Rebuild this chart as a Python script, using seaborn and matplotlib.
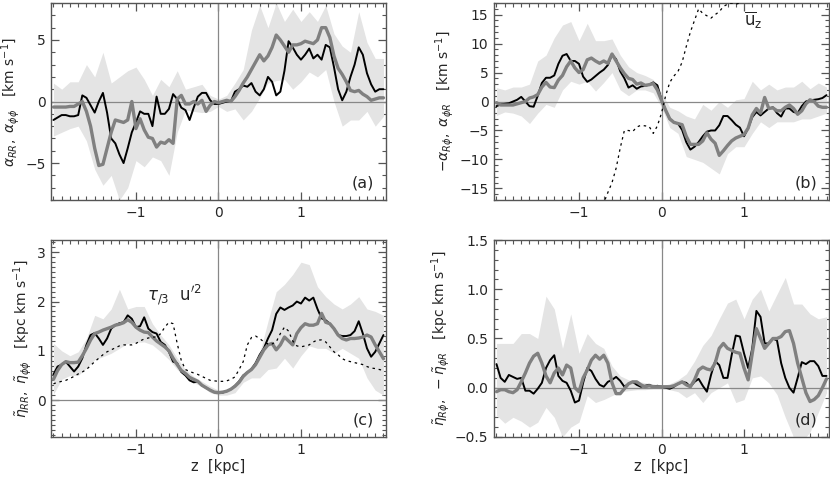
import numpy as np
import pandas as pd
import matplotlib
matplotlib.use("Agg")
import matplotlib.pyplot as plt
from matplotlib.ticker import MultipleLocator, FixedLocator
import seaborn as sns

# profiles are sampled every 0.05 kpc, the shaded bands every 0.1 kpc
z = np.round(np.arange(-2.0, 2.001, 0.05), 2)
z_band = np.round(np.arange(-2.0, 2.001, 0.1), 2)
z_uz = np.round(np.arange(-0.75, 1.101, 0.05), 2)
z_ticks = [-1, 0, 1]

# (a) alpha_RR (black) and alpha_phiphi (gray), km/s
a_black = [-1.5, -1.3, -1.1, -1.1, -1.2, -1.2, -1.1, 0.5, 0.3,
           -0.3, -0.9, 0.0, 0.7, -0.9, -3.0, -3.4, -4.3, -5.0,
           -3.8, -2.5, -1.7, -0.8, -1.0, -1.0, -2.0, 0.4, -1.0,
           -1.0, -0.6, 0.6, 0.2, -0.5, -0.7, -1.5, -0.5, 0.4,
           0.7, 0.7, 0.1, -0.2, -0.2, -0.1, 0.0, 0.0, 0.8,
           1.0, 1.3, 1.2, 1.5, 0.8, 0.5, 1.0, 2.0, 1.6,
           0.5, 0.8, 2.5, 4.9, 4.4, 3.8, 3.4, 3.8, 4.3,
           3.5, 3.8, 3.4, 4.6, 4.4, 2.8, 1.0, 0.1, 0.8,
           2.0, 3.0, 4.4, 3.8, 2.3, 1.4, 0.8, 1.0, 1.0]
a_gray = [-0.45, -0.45, -0.45, -0.45, -0.4, -0.4, -0.2, 0.0, -0.8,
          -2.0, -3.8, -5.2, -5.1, -3.8, -2.5, -1.5, -1.6, -1.7,
          -1.5, 0.0, -2.2, -1.4, -2.3, -2.9, -3.0, -3.7, -3.3,
          -3.4, -3.1, -3.4, 0.2, 0.5, -0.2, -0.2, 0.0, -0.2,
          0.1, -0.8, -0.3, 0.0, -0.1, 0.0, 0.1, 0.0, 0.4,
          0.9, 1.5, 2.0, 2.6, 3.2, 3.8, 3.3, 3.7, 4.4,
          5.4, 5.0, 4.5, 4.0, 4.6, 4.6, 4.7, 4.9, 4.8,
          4.7, 5.0, 6.0, 6.0, 5.2, 3.7, 2.7, 2.2, 1.6,
          0.9, 0.8, 0.9, 0.6, 0.4, 0.1, 0.2, 0.3, 0.3]
a_lo = [-2.8, -2.5, -2.2, -2.0, -3.2, -5.5, -6.8, -6.0, -8.0, -7.0,
        -4.8, -5.3, -4.5, -4.8, -6.0, -2.5, -0.7, -0.8, -0.9, -0.8,
        -0.4, -0.8, -0.6, -1.5, -0.8, 0.3, 1.5, 1.7, 1.8, 1.0,
        1.6, 2.4, 2.0, 2.6, 0.0, -2.0, -1.5, -1.5, -0.8, -2.0, -1.2]
a_up = [1.5, 1.0, 1.6, 1.6, 3.0, 2.0, 4.0, 1.5, 2.0, 2.5,
        2.8, 1.8, 0.5, 1.8, 1.2, 2.5, 1.0, 1.2, 1.4, 0.5,
        0.2, 0.5, 1.5, 2.6, 5.8, 7.8, 6.0, 8.0, 6.5, 7.5,
        6.5, 7.3, 6.5, 7.8, 5.5, 4.5, 4.0, 7.3, 4.8, 3.5, 3.5]

# (b) -alpha_Rphi (black) and alpha_phiR (gray), km/s, plus mean vertical velocity
b_black = [-0.8, -0.5, -0.4, -0.3, 0.0, 0.3, 0.8, 0.0, -0.8,
           -0.9, 1.0, 3.2, 4.1, 4.1, 4.5, 6.5, 7.9, 8.2,
           7.0, 7.0, 6.5, 4.3, 3.4, 3.8, 4.4, 5.0, 5.5,
           6.3, 8.1, 7.3, 5.2, 4.0, 2.4, 2.8, 2.2, 2.6,
           2.7, 2.9, 3.3, 2.8, 0.3, -1.5, -3.0, -3.6, -3.8,
           -4.9, -7.0, -8.3, -7.8, -7.0, -6.0, -5.2, -5.0, -5.0,
           -4.1, -2.5, -2.5, -3.2, -4.0, -4.5, -6.0, -4.6, -2.7,
           -1.8, -2.4, -1.8, -1.2, -1.0, -2.0, -2.6, -1.2, -1.2,
           -1.8, -2.0, -0.8, 0.0, 0.2, 0.3, 0.4, 0.6, 1.1]
b_gray = [-0.2, -0.6, -0.6, -0.6, -0.6, -0.4, -0.2, 0.0, 0.6,
          0.8, 1.2, 2.5, 3.3, 2.5, 2.4, 3.7, 4.5, 6.0,
          7.0, 5.8, 5.0, 5.5, 7.2, 7.5, 7.0, 6.6, 7.0,
          6.6, 8.2, 7.0, 5.8, 4.8, 4.0, 3.8, 3.0, 3.2,
          2.8, 2.9, 3.1, 2.0, 0.2, -1.5, -3.0, -3.6, -3.8,
          -4.0, -6.0, -7.4, -7.4, -7.4, -6.8, -5.4, -6.5, -7.2,
          -9.3, -8.5, -7.6, -6.8, -6.3, -6.0, -5.7, -4.6, -2.3,
          -1.2, -2.0, 0.7, -1.2, -1.1, -1.6, -1.6, -1.0, -0.6,
          -1.2, -2.2, -1.6, -0.4, 0.3, 0.0, -0.8, -1.0, -1.0]
b_lo = [-2.4, -1.8, -2.0, -2.5, -3.8, -2.0, -0.5, -1.0, 2.0, 3.5,
        3.0, 3.5, 1.8, 3.3, 5.0, 2.0, 1.0, 2.0, 2.0, 1.5,
        -1.0, -4.5, -5.5, -9.5, -10.0, -10.5, -11.5, -12.5, -9.0, -7.8,
        -7.8, -5.5, -3.5, -4.5, -3.5, -3.5, -3.5, -3.0, -3.0, -2.5, -2.0]
b_up = [2.4, 2.0, 2.5, 2.5, 3.0, 7.0, 8.0, 11.0, 13.2, 13.8,
        10.5, 13.5, 10.5, 10.5, 10.8, 8.0, 6.0, 5.0, 4.5, 3.8,
        1.5, -1.0, -1.6, -2.5, -3.0, -0.5, -1.5, 0.0, -1.0, 0.3,
        0.5, 3.5, 2.0, 3.0, 2.0, 2.5, 2.5, 3.5, 2.2, 3.2, 2.5]
uz = [-20.0, -17.5, -15.7, -14.0, -11.5, -8.0, -5.0, -5.0, -5.2, -4.4,
      -4.1, -4.2, -4.3, -5.5, -4.2, -2.0, 1.0, 3.3, 4.4, 5.2,
      6.8, 9.5, 12.0, 14.0, 16.0, 15.2, 14.8, 14.4, 15.0, 15.5,
      16.4, 16.8, 17.0, 16.8, 17.0, 17.2, 17.5, 18.5]

# (c) eta_RR (black) and eta_phiphi (gray), kpc km/s, plus tau/3 u'^2
c_black = [0.52, 0.68, 0.72, 0.78, 0.68, 0.58, 0.68, 0.85, 1.12,
           1.32, 1.36, 1.25, 1.12, 1.25, 1.45, 1.52, 1.56, 1.58,
           1.72, 1.65, 1.48, 1.50, 1.68, 1.45, 1.38, 1.35, 1.18,
           1.12, 0.98, 0.78, 0.75, 0.57, 0.50, 0.40, 0.36, 0.38,
           0.30, 0.25, 0.20, 0.16, 0.15, 0.15, 0.18, 0.22, 0.29,
           0.38, 0.50, 0.56, 0.63, 0.75, 0.92, 1.05, 1.25, 1.42,
           1.75, 1.88, 1.83, 1.88, 1.92, 2.00, 1.96, 2.08, 2.02,
           2.08, 1.85, 1.66, 1.62, 1.55, 1.45, 1.32, 1.30, 1.30,
           1.32, 1.40, 1.60, 1.35, 1.05, 0.88, 0.98, 1.15, 1.32]
c_gray = [0.42, 0.60, 0.72, 0.78, 0.76, 0.76, 0.77, 0.90, 1.05,
          1.22, 1.35, 1.38, 1.42, 1.45, 1.48, 1.52, 1.54, 1.57,
          1.63, 1.58, 1.48, 1.42, 1.38, 1.37, 1.28, 1.20, 1.14,
          1.08, 1.00, 0.85, 0.72, 0.60, 0.54, 0.46, 0.42, 0.38,
          0.30, 0.25, 0.20, 0.16, 0.15, 0.16, 0.18, 0.22, 0.28,
          0.36, 0.48, 0.56, 0.62, 0.72, 0.87, 1.02, 1.12, 1.15,
          1.02, 1.12, 1.28, 1.20, 1.12, 1.35, 1.47, 1.55, 1.52,
          1.52, 1.55, 1.76, 1.58, 1.55, 1.45, 1.32, 1.25, 1.22,
          1.25, 1.25, 1.26, 1.28, 1.32, 1.28, 1.12, 0.98, 0.84]
c_tau = [0.33, 0.36, 0.38, 0.40, 0.44, 0.48, 0.53, 0.57, 0.62,
         0.70, 0.78, 0.85, 0.92, 0.98, 1.02, 1.06, 1.10, 1.12,
         1.12, 1.12, 1.15, 1.20, 1.24, 1.26, 1.28, 1.28, 1.35,
         1.48, 1.58, 1.55, 1.15, 0.80, 0.62, 0.58, 0.55, 0.52,
         0.48, 0.44, 0.40, 0.39, 0.38, 0.38, 0.39, 0.42, 0.47,
         0.62, 0.78, 1.12, 1.27, 1.30, 1.25, 1.18, 1.14, 1.14,
         1.18, 1.35, 1.48, 1.40, 1.20, 1.10, 1.08, 1.10, 1.12,
         1.18, 1.22, 1.22, 1.18, 1.08, 0.98, 0.92, 0.84, 0.80,
         0.78, 0.76, 0.74, 0.72, 0.68, 0.65, 0.64, 0.62, 0.60]
c_lo = [0.12, 0.42, 0.50, 0.50, 0.65, 0.82, 0.88, 0.95, 1.05, 1.15,
        1.17, 1.18, 1.12, 0.98, 0.82, 0.62, 0.48, 0.35, 0.28, 0.15,
        0.10, 0.10, 0.15, 0.36, 0.45, 0.45, 0.62, 0.65, 0.85, 0.65,
        0.90, 1.10, 1.05, 1.05, 0.95, 1.05, 0.95, 0.85, 0.45, 0.20, 0.10]
c_up = [1.15, 1.00, 0.90, 0.98, 1.25, 1.72, 1.65, 1.85, 2.25, 1.85,
        1.90, 1.90, 1.55, 1.32, 1.12, 0.85, 0.62, 0.48, 0.38, 0.28,
        0.20, 0.20, 0.30, 0.52, 0.62, 0.95, 1.60, 2.20, 2.35, 2.55,
        2.80, 2.75, 2.30, 2.10, 1.95, 1.85, 1.95, 2.10, 1.85, 1.80, 1.72]

# (d) eta_Rphi (black) and -eta_phiR (gray), kpc km/s
d_black = [0.24, 0.10, 0.06, 0.13, 0.11, 0.09, 0.10, -0.03, -0.03,
           -0.06, -0.01, 0.05, 0.20, 0.28, 0.33, 0.12, 0.07, 0.05,
           -0.03, -0.15, -0.13, 0.05, 0.20, 0.17, 0.09, 0.03, 0.01,
           0.06, 0.08, 0.11, 0.07, 0.01, 0.04, 0.06, 0.03, 0.01,
           0.02, 0.03, 0.01, 0.02, 0.01, 0.00, -0.01, 0.01, 0.04,
           0.06, 0.05, 0.01, 0.06, 0.09, 0.02, -0.04, 0.13, 0.27,
           0.23, 0.10, 0.10, 0.33, 0.53, 0.52, 0.35, 0.20, 0.40,
           0.78, 0.72, 0.45, 0.45, 0.50, 0.48, 0.25, 0.10, 0.00,
           -0.05, 0.10, 0.26, 0.24, 0.27, 0.27, 0.22, 0.12, 0.12]
d_gray = [-0.04, -0.02, -0.02, -0.04, -0.05, -0.02, 0.06, 0.15, 0.25,
          0.32, 0.35, 0.25, 0.12, 0.05, 0.15, 0.20, 0.13, 0.23,
          0.20, 0.00, -0.04, 0.10, 0.18, 0.28, 0.33, 0.29, 0.33,
          0.25, 0.05, -0.06, -0.06, -0.01, 0.04, 0.06, 0.06, 0.03,
          0.01, 0.02, 0.01, 0.01, 0.01, 0.01, 0.01, 0.02, 0.04,
          0.06, 0.03, 0.01, 0.08, 0.18, 0.21, 0.19, 0.18, 0.25,
          0.40, 0.45, 0.40, 0.38, 0.36, 0.35, 0.20, 0.08, 0.35,
          0.60, 0.50, 0.40, 0.45, 0.50, 0.50, 0.52, 0.57, 0.58,
          0.45, 0.25, 0.10, -0.05, -0.14, -0.12, -0.08, 0.00, 0.09]
d_lo = [-0.28, -0.36, -0.30, -0.34, -0.40, -0.35, -0.20, -0.30, -0.50, -0.40,
        -0.35, -0.08, -0.15, -0.12, -0.08, -0.04, -0.03, -0.02, -0.02, -0.01,
        -0.01, -0.02, -0.04, -0.10, -0.05, -0.15, -0.05, 0.00, 0.05, -0.15,
        -0.12, 0.10, 0.12, 0.05, -0.07, -0.30, -0.50, -0.55, -0.45, -0.25, -0.05]
d_up = [0.45, 0.45, 0.45, 0.55, 0.55, 0.50, 0.93, 0.80, 0.40, 0.75,
        0.35, 0.55, 0.45, 0.40, 0.22, 0.12, 0.08, 0.07, 0.05, 0.04,
        0.02, 0.04, 0.08, 0.14, 0.27, 0.43, 0.53, 0.70, 0.86, 0.90,
        0.70, 0.90, 1.00, 0.78, 0.95, 1.12, 0.85, 0.85, 0.75, 0.70, 0.72]

sns.set_theme(style="ticks")
plt.rcParams['font.family'] = ['DejaVu Sans']
plt.rcParams['mathtext.fontset'] = 'dejavusans'
plt.rcParams['axes.edgecolor'] = '#555555'
plt.rcParams['axes.linewidth'] = 1.0

fig = plt.figure(figsize=(8.3, 4.8), dpi=100)


def panel(rect, black, gray, lo, up, ylim, major, minor, ylabel, tag, bottom_row=False):
    ax = fig.add_axes(rect)
    ax.fill_between(z_band, lo, up, color="#e4e4e4", lw=0, zorder=1)
    ax.axhline(0, color="#888888", lw=0.9, zorder=2)
    ax.axvline(0, color="#888888", lw=0.9, zorder=2)
    sns.lineplot(x=z, y=black, color="black", lw=1.4, ax=ax, zorder=3)
    sns.lineplot(x=z, y=gray, color="#808080", lw=2.4, ax=ax, zorder=4)
    ax.set_xlim(-2.03, 2.03)
    ax.set_ylim(*ylim)
    ax.xaxis.set_major_locator(FixedLocator(z_ticks))
    ax.xaxis.set_minor_locator(MultipleLocator(0.1))
    ax.yaxis.set_major_locator(MultipleLocator(major))
    ax.yaxis.set_minor_locator(MultipleLocator(minor))
    ax.tick_params(which="both", direction="in", top=True, right=True,
                   color="#555555", labelsize=10, pad=4)
    ax.tick_params(which="major", length=6, width=0.9)
    ax.tick_params(which="minor", length=3, width=0.8)
    ax.set_ylabel(ylabel, fontsize=10, labelpad=2)
    ax.set_xlabel("z  [kpc]" if bottom_row else "", fontsize=10.5, labelpad=2)
    ax.text(0.965, 0.05, tag, transform=ax.transAxes, ha="right", va="bottom", fontsize=11.5)
    return ax


w, h = 0.4036, 0.4104
ax_a = panel([0.0614, 0.5833, w, h], a_black, a_gray, a_lo, a_up, (-8, 8), 5, 1,
             r"$\alpha_{RR},\ \alpha_{\phi\phi}$   [km s$^{-1}$]", "(a)")
ax_b = panel([0.5952, 0.5833, w, h], b_black, b_gray, b_lo, b_up, (-17, 17), 5, 1,
             r"$-\alpha_{R\phi},\ \alpha_{\phi R}$   [km s$^{-1}$]", "(b)")
ax_c = panel([0.0614, 0.0896, w, h], c_black, c_gray, c_lo, c_up, (-0.75, 3.25), 1, 0.1,
             r"$\tilde{\eta}_{RR},\ \tilde{\eta}_{\phi\phi}$   [kpc km s$^{-1}$]", "(c)", True)
ax_d = panel([0.5952, 0.0896, w, h], d_black, d_gray, d_lo, d_up, (-0.5, 1.5), 0.5, 0.1,
             r"$\tilde{\eta}_{R\phi},\ -\tilde{\eta}_{\phi R}$   [kpc km s$^{-1}$]", "(d)", True)

# dotted reference curves
sns.lineplot(x=z_uz, y=uz, color="black", lw=0.9, ax=ax_b, zorder=5)
ax_b.lines[-1].set_dashes([2, 3])
ax_b.text(1.0, 13.0, r"$\overline{\mathrm{u}}_\mathrm{z}$", fontsize=12)

sns.lineplot(x=z, y=c_tau, color="black", lw=0.9, ax=ax_c, zorder=5)
ax_c.lines[-1].set_dashes([2, 3])
ax_c.text(-0.86, 2.15, r"$\tau_{/3}\ \ \mathrm{u}^{\prime 2}$", fontsize=12, va="center")

fig.savefig("out.png", dpi=100)
